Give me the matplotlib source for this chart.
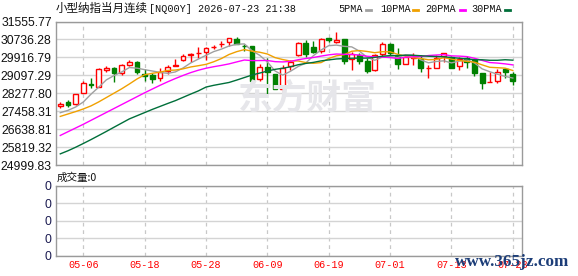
import matplotlib.pyplot as plt
from matplotlib.lines import Line2D
from matplotlib.patches import Arc

W, H = 578, 276

dates = ["05-01", "05-04", "05-05", "05-06", "05-07", "05-08", "05-11", "05-12", "05-13", "05-14",
         "05-15", "05-18", "05-19", "05-20", "05-21", "05-22", "05-25", "05-26", "05-27", "05-28",
         "05-29", "06-01", "06-02", "06-03", "06-04", "06-05", "06-08", "06-09", "06-10", "06-11",
         "06-12", "06-15", "06-16", "06-17", "06-18", "06-19", "06-22", "06-23", "06-24", "06-25",
         "06-26", "06-29", "06-30", "07-01", "07-02", "07-03", "07-06", "07-07", "07-08", "07-09",
         "07-10", "07-13", "07-14", "07-15", "07-16", "07-17", "07-20", "07-21", "07-22", "07-23"]

opens = [27701, 27898, 27807, 28308, 28687, 28581, 29325, 29431, 29188, 29583,
         29704, 29157, 29112, 28960, 29294, 29537, 29780, 30023, 30099, 30144,
         30372, 30508, 30600, 30736, 30433, 30433, 28930, 29476, 29142, 28474,
         29507, 30023, 30554, 30372, 30220, 30782, 30600, 30736, 29841, 30023,
         29750, 29325, 30053, 30524, 29993, 29628, 29886, 29841, 29416, 29446,
         29977, 29932, 29507, 29871, 29810, 29188, 28778, 28839, 29370, 29158]
highs = [27898, 27989, 28232, 28854, 28976, 29416, 29507, 29461, 29613, 29780,
         29765, 29385, 29188, 29416, 29552, 29826, 30053, 30129, 30372, 30387,
         30478, 30660, 30782, 30827, 30508, 30450, 29628, 29871, 29160, 29567,
         29795, 30630, 30706, 30660, 30782, 30782, 31055, 30736, 30144, 30114,
         29871, 30053, 30600, 30554, 30326, 29993, 30099, 30023, 29567, 30023,
         30099, 29993, 29932, 29993, 29871, 29188, 29234, 29370, 29416, 29264]
lows = [27625, 27640, 27747, 28278, 28535, 28551, 29264, 28778, 29112, 29507,
        29143, 28854, 28733, 28839, 29143, 29522, 29750, 29719, 29901, 29810,
        30296, 30387, 30417, 30524, 30205, 28808, 28854, 28262, 28460, 28322,
        29325, 29977, 29947, 30099, 30099, 30600, 30554, 29628, 29325, 29598,
        29218, 29294, 29993, 30023, 29370, 29598, 29568, 29264, 28960, 29446,
        29719, 29446, 29325, 29446, 29082, 28460, 28778, 28733, 28960, 28657]
closes = [27792, 27747, 28232, 28733, 28672, 29370, 29431, 29218, 29552, 29689,
          29234, 29082, 28915, 29234, 29476, 29552, 29977, 30068, 30129, 30326,
          30402, 30539, 30782, 30524, 30417, 28839, 29492, 29264, 28474, 29446,
          29719, 30584, 30053, 30175, 30736, 30706, 30721, 29765, 30053, 29765,
          29310, 30023, 30508, 30114, 29598, 29947, 29917, 29446, 29431, 29902,
          30099, 29446, 29841, 29720, 29218, 28733, 28793, 29264, 29234, 28839]

ma5 = [27389, 27496, 27649, 27878, 28235, 28551, 28888, 29085, 29249, 29452,
       29425, 29355, 29294, 29231, 29188, 29252, 29431, 29661, 29840, 30010,
       30180, 30293, 30436, 30515, 30533, 30220, 30011, 29707, 29297, 29103,
       29279, 29497, 29655, 29995, 30253, 30451, 30478, 30421, 30396, 30202,
       29923, 29783, 29932, 29944, 29911, 30038, 30017, 29804, 29668, 29729,
       29759, 29665, 29744, 29802, 29665, 29392, 29261, 29146, 29048, 28973]
ma10 = [27220, 27330, 27440, 27560, 27700, 27880, 28080, 28280, 28480, 28700,
        28930, 29121, 29190, 29240, 29320, 29338, 29393, 29478, 29536, 29599,
        29716, 29862, 30049, 30178, 30272, 30200, 30152, 30071, 29906, 29818,
        29750, 29754, 29681, 29646, 29678, 29865, 29988, 30038, 30196, 30228,
        30187, 30131, 30176, 30170, 30056, 29980, 29900, 29868, 29806, 29820,
        29899, 29841, 29774, 29735, 29697, 29575, 29463, 29445, 29424, 29318]
ma20 = [26350, 26520, 26690, 26860, 27040, 27220, 27400, 27580, 27760, 27940,
        28120, 28300, 28470, 28640, 28800, 28950, 29090, 29220, 29330, 29420,
        29490, 29550, 29619, 29709, 29796, 29769, 29772, 29775, 29721, 29709,
        29733, 29808, 29865, 29912, 29975, 30033, 30070, 30055, 30051, 30023,
        29968, 29942, 29929, 29908, 29867, 29923, 29944, 29953, 30001, 30024,
        30043, 29986, 29975, 29952, 29877, 29778, 29681, 29656, 29620, 29574]
ma30 = [25509, 25650, 25810, 25982, 26160, 26345, 26532, 26725, 26915, 27105,
        27250, 27395, 27540, 27675, 27810, 27940, 28090, 28240, 28385, 28560,
        28640, 28705, 28770, 28880, 28995, 29110, 29200, 29290, 29370, 29420,
        29485, 29579, 29640, 29688, 29757, 29801, 29844, 29862, 29879, 29882,
        29884, 29916, 29969, 29998, 30002, 30015, 30013, 29992, 29969, 29955,
        29945, 29909, 29877, 29850, 29810, 29807, 29784, 29784, 29809, 29789]

volumes = [0] * len(dates)

price_ticks = [24999.83, 25819.32, 26638.81, 27458.31, 28277.80,
               29097.29, 29916.79, 30736.28, 31555.77]
label_every = 8
label_start = 3

ma_names = ["5PMA", "10PMA", "20PMA", "30PMA"]
ma_colors = ["#a0a0a0", "#f0a000", "#ff00ff", "#006f3a"]

RED = "#ff0000"
GREEN = "#008000"
GRID = "#d4d4d4"
FRAME = "#9a9a9a"


def px(x, y):
    """pixel position -> figure fraction"""
    return x / W, 1 - y / H


fig = plt.figure(figsize=(W / 100, H / 100), dpi=100)
ax = fig.add_axes([56 / W, 1 - 165 / H, 466 / W, 143.5 / H])
axv = fig.add_axes([56 / W, 1 - 255.5 / H, 466 / W, 69.5 / H])

idx = list(range(len(dates)))
tick_pos = idx[label_start::label_every]

for a in (ax, axv):
    a.set_xlim(-0.56, 60.2)
    for s in a.spines.values():
        s.set_color(FRAME)
        s.set_linewidth(1)
    a.tick_params(length=0, pad=3)
    a.set_xticks(tick_pos)
    for p in tick_pos:
        a.axvline(p, color="#c8c8c8", lw=0.9, ls=(0, (3, 3)), zorder=0)

# watermark
ax.text(238, 29100, "", zorder=0)
fig.text(*px(238, 98), "东方财富", fontsize=25, fontweight="bold", color="#e6e6ea",
         family=["Noto Sans CJK SC"], ha="left", va="center", zorder=0)
wm = Arc(px(213, 97), 26 / W, 26 / H, theta1=60, theta2=300, lw=5, color="#e6e6ea",
         transform=fig.transFigure, zorder=0)
fig.add_artist(wm)

# price panel
ax.set_ylim(price_ticks[0], price_ticks[-1])
ax.set_yticks(price_ticks)
ax.set_yticklabels([f"{v:.2f}" for v in price_ticks], fontsize=8.8,
                   family="Liberation Sans", color="#111111")
for v in price_ticks:
    ax.axhline(v, color=GRID, lw=1, zorder=0.5)
ax.set_xticklabels([])

for i in idx:
    o, h, l, c = opens[i], highs[i], lows[i], closes[i]
    up = c >= o
    col = RED if up else GREEN
    ax.vlines(i, l, h, color=col, lw=1, zorder=2)
    bottom = min(o, c)
    height = max(abs(c - o), 10)
    ax.bar(i, height, bottom=bottom, width=0.64,
           facecolor="white" if up else GREEN, edgecolor=col, lw=1, zorder=2.5)

for vals, colr in zip([ma5, ma10, ma20, ma30], ma_colors):
    ax.plot(idx, vals, color=colr, lw=1, zorder=3)

# volume panel
axv.set_ylim(0, 4)
axv.set_yticks([0, 1, 2, 3, 4])
axv.set_yticklabels(["0"] * 5, fontsize=8.8, family="Liberation Sans", color="#1a1a50")
for v in range(5):
    axv.axhline(v, color=GRID, lw=1, zorder=0.5)
axv.bar(idx, volumes, width=0.64, color=GREEN)
axv.set_xticklabels([dates[p] for p in tick_pos], fontsize=7.3,
                    family="Liberation Mono", color=RED)

# title and legend
fig.text(*px(56, 8.5), "小型纳指当月连续", fontsize=8.3, family=["Noto Sans CJK SC"],
         ha="left", va="center", color="#111111")
fig.text(*px(149, 8.5), "[NQ00Y] 2026-07-23 21:38", fontsize=7.3, family="Liberation Mono",
         ha="left", va="center", color="#111111")

legend_x = [338.7, 380.3, 425.7, 471.3]
swatch_x = [365.5, 413, 459.5, 504.5]
for name, colr, tx, sx in zip(ma_names, ma_colors, legend_x, swatch_x):
    fig.text(*px(tx, 9), name, fontsize=7.3, family="Liberation Mono",
             ha="left", va="center", color="#111111")
    x0, y0 = px(sx, 10)
    x1, _ = px(sx + 5, 10)
    fig.add_artist(Line2D([x0, x1], [y0, y0], color=colr, lw=2,
                          transform=fig.transFigure))

fig.text(*px(57, 177.5), "成交量:0", fontsize=7.6, family=["Noto Sans CJK SC"],
         ha="left", va="center", color="#111111")

fig.text(*px(455, 262), "www.365jz.com", fontsize=12.3, fontweight="bold",
         family="Liberation Serif", color="#1c3d78", ha="left", va="center", zorder=10)

fig.savefig("out.png", dpi=100)
